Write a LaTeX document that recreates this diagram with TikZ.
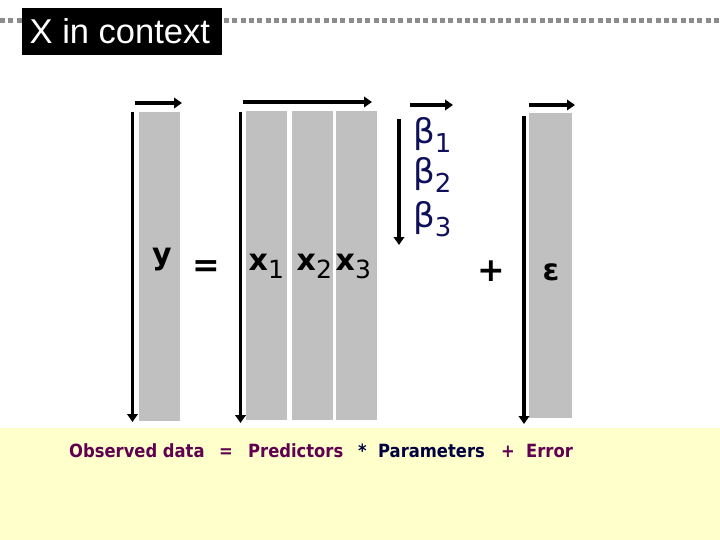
\documentclass[tikz,border=0pt]{standalone}
\usepackage{fontspec}
\setmainfont{DejaVu Sans}
\newfontfamily\arialf{Liberation Sans}
\newfontfamily\condf{DejaVu Sans Condensed}
\usetikzlibrary{arrows.meta}
\definecolor{colgray}{RGB}{192,192,192}
\definecolor{betanavy}{RGB}{16,16,90}
\definecolor{txtpurple}{RGB}{96,0,80}
\definecolor{txtnavy}{RGB}{0,0,64}
\definecolor{bandyellow}{RGB}{255,255,204}
\definecolor{dotgray}{RGB}{140,140,140}
\tikzset{
  colrect/.style={fill=colgray,draw=none},
  dimarrow/.style={line width=3.6pt,-{Triangle[length=8pt,width=10.5pt]}},
  lbl/.style={inner sep=0pt,anchor=base west},
  biglbl/.style={inner sep=0pt,anchor=base west,font=\fontsize{30}{32}\selectfont\bfseries},
  betalbl/.style={inner sep=0pt,anchor=base west,text=betanavy,font=\fontsize{34}{36}\selectfont},
  botlbl/.style={inner sep=0pt,anchor=base west,font=\condf\fontsize{18.2}{20}\selectfont\bfseries},
}
\newcommand{\subdig}[1]{{\fontsize{25}{25}\selectfont\mdseries\raisebox{-8pt}{#1}}}
\newcommand{\betasub}[1]{{\fontsize{26}{26}\selectfont\raisebox{-9pt}{#1}}}
\begin{document}
\begin{tikzpicture}[x=1pt,y=-1pt]
\useasboundingbox (0,0) rectangle (720,540);
% background band
\fill[bandyellow] (0,428) rectangle (720,540);
% title
\draw[dotgray,line width=5pt,dash pattern=on 5pt off 3.3pt] (0,20.8) -- (720,20.8);
\node[fill=black,minimum width=200pt,minimum height=47pt,inner sep=0pt,anchor=north west] (titlebox) at (21.7,8) {};
\node[lbl,text=white,font=\arialf\fontsize{34.5}{36}\selectfont] (title) at (29.5,44) {X in context};
% columns
\fill[colrect] (139,112) rectangle (180,421);
\fill[colrect] (246,111) rectangle (287,420);
\fill[colrect] (292,111) rectangle (333,420);
\fill[colrect] (336,111) rectangle (377,420);
\fill[colrect] (529,113) rectangle (572,418);
% arrow end points
\coordinate (yt1) at (135,103); \coordinate (yt2) at (182,103);
\coordinate (yl1) at (132.5,112); \coordinate (yl2) at (132.5,422);
\coordinate (xt1) at (243,102); \coordinate (xt2) at (372,102);
\coordinate (xl1) at (240.5,112); \coordinate (xl2) at (240.5,423);
\coordinate (bt1) at (410,105); \coordinate (bt2) at (453,105);
\coordinate (bl1) at (399,119); \coordinate (bl2) at (399,245);
\coordinate (et1) at (529,105); \coordinate (et2) at (575,105);
\coordinate (el1) at (524,116); \coordinate (el2) at (524,424);
\draw[dimarrow] (yt1) -- (yt2);
\draw[dimarrow] (yl1) -- (yl2);
\draw[dimarrow] (xt1) -- (xt2);
\draw[dimarrow] (xl1) -- (xl2);
\draw[dimarrow] (bt1) -- (bt2);
\draw[dimarrow] (bl1) -- (bl2);
\draw[dimarrow] (et1) -- (et2);
\draw[dimarrow] (el1) -- (el2);
% equation symbols
\node[biglbl] (ylab) at (152,264.5) {y};
\node[inner sep=0pt,anchor=base,font=\fontsize{33}{34}\selectfont\bfseries] (eq) at (206.5,276) {=};
\node[biglbl] (x1) at (248.5,270) {x\subdig{1}};
\node[biglbl] (x2) at (296.5,270) {x\subdig{2}};
\node[biglbl] (x3) at (335.5,270) {x\subdig{3}};
\node[betalbl] (b1) at (413,144) {β\betasub{1}};
\node[betalbl] (b2) at (413,184) {β\betasub{2}};
\node[betalbl] (b3) at (413,228) {β\betasub{3}};
\node[inner sep=0pt,anchor=base,font=\fontsize{33}{34}\selectfont\bfseries] (plus) at (491,281) {+};
\node[inner sep=0pt,anchor=base,font=\fontsize{30}{32}\selectfont\bfseries] (eps) at (551,280) {ε};
% bottom text
\node[botlbl,text=txtpurple] (obs) at (69,457) {Observed data};
\node[botlbl,text=txtpurple] (beq) at (219,457) {=};
\node[botlbl,text=txtpurple] (pred) at (248,457) {Predictors};
\node[botlbl,text=txtnavy] (star) at (358,457) {*};
\node[botlbl,text=txtnavy] (par) at (378,457) {Parameters};
\node[botlbl,text=txtpurple] (bplus) at (501,457) {+};
\node[botlbl,text=txtpurple] (err) at (526,457) {Error};
\end{tikzpicture}
\end{document}
